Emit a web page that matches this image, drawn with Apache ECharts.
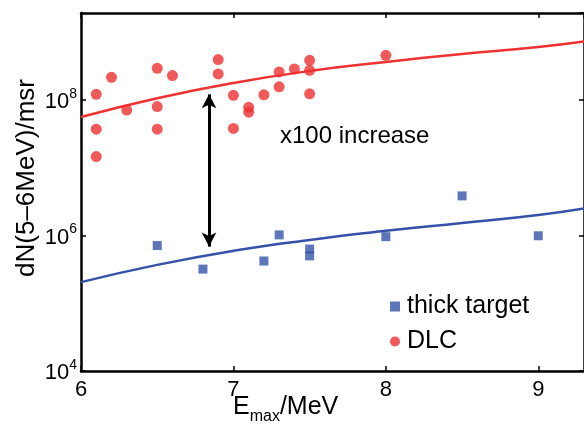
<!DOCTYPE html>
<html>
<head>
<meta charset="utf-8">
<script src="https://cdn.jsdelivr.net/npm/echarts@6/dist/echarts.min.js"></script>
<style>
  html, body { margin: 0; padding: 0; background: #fff; }
  #chart { width: 584px; height: 427px; }
</style>
</head>
<body>
<div id="chart"></div>
<script>
// values
const dlcX = [6.1, 6.1, 6.1, 6.2, 6.3, 6.5, 6.5, 6.5, 6.6, 6.9, 6.9, 7.0, 7.0, 7.1, 7.1, 7.2, 7.3, 7.3, 7.4, 7.5, 7.5, 7.5, 8.0];
const dlcY = [1.21e8, 3.7e7, 1.46e7, 2.16e8, 7.1e7, 2.93e8, 8.0e7, 3.7e7, 2.29e8, 3.94e8, 2.42e8, 1.17e8, 3.8e7, 7.8e7, 6.6e7, 1.19e8, 2.59e8, 1.56e8, 2.87e8, 3.85e8, 2.74e8, 1.23e8, 4.56e8];

const thickX = [6.5, 6.8, 7.2, 7.3, 7.5, 7.5, 8.0, 8.5, 9.0];
const thickY = [7.1e5, 3.19e5, 4.2e5, 1.02e6, 6.3e5, 5.0e5, 9.6e5, 3.84e6, 9.9e5];

// fitted curves (read at a few energies)
const fitX = [6.0, 6.5, 7.0, 7.5, 8.0, 8.5, 9.0, 9.3];
const dlcFitY = [5.6e7, 1.06e8, 1.78e8, 2.68e8, 3.63e8, 4.76e8, 6.05e8, 7.3e8];
const thickFitY = [2.05e5, 3.68e5, 5.93e5, 8.6e5, 1.17e6, 1.53e6, 2.01e6, 2.51e6];

// double arrow marking the gain
const arrowX = 6.84;
const arrowY = [1.21e8, 6.85e5];

const RED = "#ee3131";
const BLUE = "#3452a8";
const FONT = "Liberation Sans, Arial, sans-serif";

const zip = (xs, ys) => xs.map((x, i) => [x, ys[i]]);

const chart = echarts.init(document.getElementById("chart"));

const xBase = {
  type: "value",
  min: 6,
  max: 9.3,
  interval: 1,
  splitLine: { show: false },
  axisLine: { show: true, onZero: false, lineStyle: { color: "#000", width: 2.5 } },
  axisTick: { show: true, inside: true, length: 5, lineStyle: { color: "#000", width: 1.5 } }
};

const yBase = {
  type: "log",
  logBase: 100,
  min: 1e4,
  max: 1.92e9,
  splitLine: { show: false },
  minorTick: { show: false },
  axisLine: { show: true, onZero: false, lineStyle: { color: "#000", width: 2.5 } },
  axisTick: { show: true, inside: true, length: 5, lineStyle: { color: "#000", width: 1.5 } }
};

const option = {
  animation: false,
  textStyle: { fontFamily: FONT },
  grid: { left: 81, top: 13, bottom: 56, right: -3 },
  xAxis: [
    Object.assign({}, xBase, {
      position: "bottom",
      axisLabel: {
        show: true, color: "#000", fontSize: 22, fontFamily: FONT, margin: 8,
        showMaxLabel: false,
        formatter: v => Number.isInteger(v) ? String(v) : ""
      }
    }),
    Object.assign({}, xBase, { position: "top", axisLabel: { show: false } })
  ],
  yAxis: [
    Object.assign({}, yBase, {
      position: "left",
      axisLabel: {
        show: true, color: "#000", margin: 4, showMaxLabel: false,
        formatter: v => "{b|10}{s|" + Math.round(Math.log10(v)) + "}",
        rich: {
          b: { fontSize: 22, fontFamily: FONT, color: "#000", verticalAlign: "bottom" },
          s: { fontSize: 14, fontFamily: FONT, color: "#000", verticalAlign: "top", padding: [0, 0, 12, 0] }
        }
      }
    }),
    Object.assign({}, yBase, { position: "right", axisLabel: { show: false } })
  ],
  legend: {
    orient: "vertical",
    left: 385,
    top: 289,
    itemWidth: 10,
    itemHeight: 10,
    itemGap: 10,
    textStyle: { fontSize: 25, fontFamily: FONT, color: "#000", padding: [0, 0, 0, 2] },
    data: [
      { name: "thick target", icon: "rect" },
      { name: "DLC", icon: "circle" }
    ]
  },
  graphic: [
    {
      type: "text",
      left: 280,
      top: 124,
      style: { text: "x100 increase", font: "24px " + FONT, fill: "#000" }
    },
    {
      type: "text",
      x: 27,
      y: 178,
      rotation: Math.PI / 2,
      style: {
        text: "dN(5\u20136MeV)/msr",
        font: "26px " + FONT,
        fill: "#000",
        align: "center",
        verticalAlign: "middle"
      }
    },
    {
      type: "text",
      left: 233,
      top: 395,
      style: {
        text: "{m|E}{sub|max}{m|/MeV}",
        rich: {
          m: { fontSize: 25, fontFamily: FONT, fill: "#000", verticalAlign: "top" },
          sub: { fontSize: 16, fontFamily: FONT, fill: "#000", padding: [14, 0, 0, 0] }
        }
      }
    }
  ],
  series: [
    {
      name: "DLC fit",
      type: "line",
      data: zip(fitX, dlcFitY),
      smooth: true,
      showSymbol: false,
      silent: true,
      lineStyle: { color: RED, width: 2.5 },
      z: 2
    },
    {
      name: "thick fit",
      type: "line",
      data: zip(fitX, thickFitY),
      smooth: true,
      showSymbol: false,
      silent: true,
      lineStyle: { color: BLUE, width: 2.5 },
      z: 2
    },
    {
      name: "thick target",
      type: "scatter",
      symbol: "rect",
      symbolSize: 9,
      itemStyle: { color: BLUE },
      data: zip(thickX, thickY),
      z: 3
    },
    {
      name: "DLC",
      type: "scatter",
      symbol: "circle",
      symbolSize: 11,
      itemStyle: { color: RED },
      data: zip(dlcX, dlcY),
      z: 3,
      markLine: {
        silent: true,
        symbol: ["arrow", "arrow"],
        symbolSize: [11, 14],
        label: { show: false },
        lineStyle: { color: "#000", width: 3, type: "solid" },
        data: [[{ coord: [arrowX, arrowY[0]] }, { coord: [arrowX, arrowY[1]] }]]
      }
    }
  ]
};

chart.setOption(option);
window.addEventListener("resize", () => chart.resize());
</script>
</body>
</html>
